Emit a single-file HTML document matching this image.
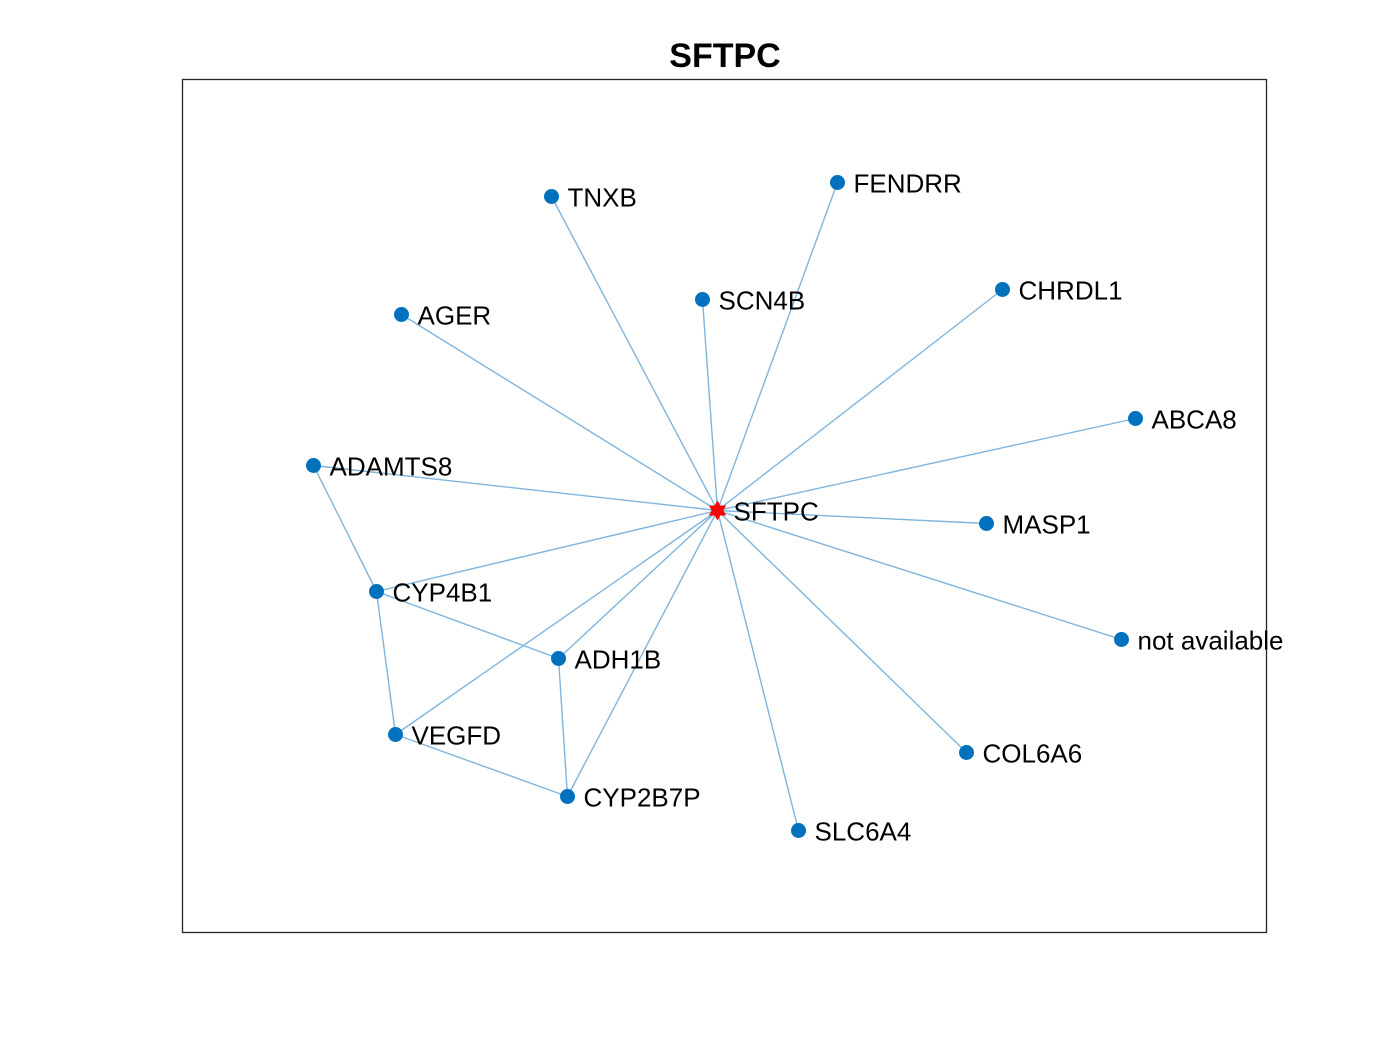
<!DOCTYPE html>
<html><head><meta charset="utf-8">
<style>
html,body{margin:0;padding:0;background:#fff;}
svg{display:block;font-family:"Liberation Sans",Arial,sans-serif;}
</style></head>
<body>
<svg id="chart" width="1400" height="1050" viewBox="0 0 1400 1050" xmlns="http://www.w3.org/2000/svg">
<rect x="0" y="0" width="1400" height="1050" fill="#fff"/>
<text x="725" y="67" text-anchor="middle" font-size="34" font-weight="bold" fill="#000">SFTPC</text>
<rect x="182.5" y="79.5" width="1084" height="853" fill="none" stroke="#262626" stroke-width="1.3"/>
<g id="edges"></g>
<g id="nodes"></g>
<g id="labels"></g>
</svg>
<script>
// node data (layout coordinates, data units within axes: x 0..1084, y 0..853 from top)
const nodeNames = ["SFTPC","TNXB","FENDRR","SCN4B","CHRDL1","AGER","ABCA8","ADAMTS8","MASP1","CYP4B1","ADH1B","not available","VEGFD","COL6A6","CYP2B7P","SLC6A4"];
const nodeX = [535,369,655,520,820,219,953,131,804,194,376,939,213,784,385,616];
const nodeY = [431,117,103,220,210,235,339,386,444,512,579,560,655,673,717,751];
const edgeFrom = [0,0,0,0,0,0,0,0,0,0,0,0,0,0,0,7,9,9,10,12];
const edgeTo   = [1,2,3,4,5,6,7,8,9,10,11,12,13,14,15,9,12,10,14,14];

const X0 = 182.5, Y0 = 79.5;
function sx(v){ return X0 + v; }
function sy(v){ return Y0 + v; }
const NS = "http://www.w3.org/2000/svg";
const gE = document.getElementById("edges"), gN = document.getElementById("nodes"), gL = document.getElementById("labels");

for (let i = 0; i < edgeFrom.length; i++) {
  const a = edgeFrom[i], b = edgeTo[i];
  const l = document.createElementNS(NS, "line");
  l.setAttribute("x1", sx(nodeX[a])); l.setAttribute("y1", sy(nodeY[a]));
  l.setAttribute("x2", sx(nodeX[b])); l.setAttribute("y2", sy(nodeY[b]));
  l.setAttribute("stroke", "#7fb5dc"); l.setAttribute("stroke-width", "1.4");
  
  
  gE.appendChild(l);
}

for (let i = 0; i < nodeNames.length; i++) {
  const cx = sx(nodeX[i]), cy = sy(nodeY[i]);
  let m;
  if (i === 0) {
    m = document.createElementNS(NS, "polygon");
    const pts = [];
    for (let k = 0; k < 12; k++) {
      const r = (k % 2 === 0) ? 10 : 5.8;
      const ang = -Math.PI / 2 + k * Math.PI / 6;
      pts.push((cx + r * Math.cos(ang)).toFixed(2) + "," + (cy + r * Math.sin(ang)).toFixed(2));
    }
    m.setAttribute("points", pts.join(" "));
    m.setAttribute("fill", "#ff0000");
  } else {
    m = document.createElementNS(NS, "circle");
    m.setAttribute("cx", cx); m.setAttribute("cy", cy); m.setAttribute("r", 7.5);
    m.setAttribute("fill", "#0072bd");
  }
  
  
  gN.appendChild(m);

  const t = document.createElementNS(NS, "text");
  t.setAttribute("x", cx + 16); t.setAttribute("y", cy + 10);
  t.setAttribute("font-size", "26"); t.setAttribute("fill", "#000");
  t.textContent = nodeNames[i];
  
  
  gL.appendChild(t);
}
</script>
</body></html>
